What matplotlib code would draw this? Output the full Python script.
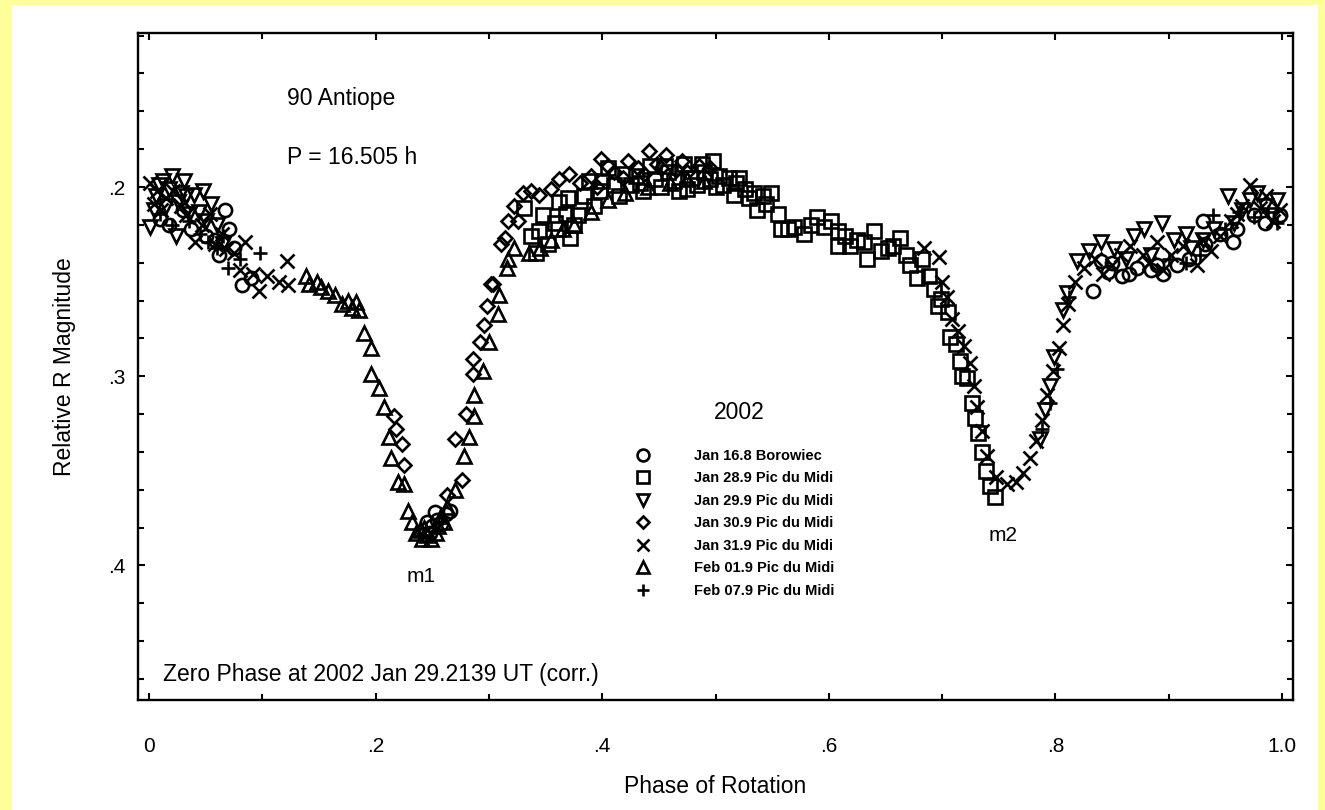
#!/usr/bin/python3

# plot.py
#
# Lightcurve of 90 Antiope, relative R magnitude against rotational phase.
import matplotlib
matplotlib.use('Agg')
import matplotlib.pyplot as plt
from matplotlib.patches import Rectangle

# Jan 16.8 Borowiec (circles)
jan16_phase = [0.010, 0.018, 0.030, 0.037, 0.050, 0.058, 0.062, 0.067, 0.071, 0.075,
               0.082, 0.090,
               0.245, 0.248, 0.250, 0.252, 0.254, 0.258, 0.262, 0.266,
               0.833, 0.840, 0.846, 0.850, 0.859, 0.865, 0.872, 0.884, 0.890, 0.895,
               0.907, 0.918, 0.930, 0.932, 0.945, 0.957, 0.960, 0.975, 0.985, 0.998]
jan16_mag = [0.217, 0.220, 0.212, 0.222, 0.226, 0.228, 0.236, 0.212, 0.222, 0.232,
             0.252, 0.248,
             0.377, 0.383, 0.379, 0.372, 0.376, 0.378, 0.373, 0.371,
             0.255, 0.239, 0.245, 0.240, 0.247, 0.246, 0.243, 0.244, 0.241, 0.246,
             0.241, 0.238, 0.218, 0.230, 0.225, 0.229, 0.222, 0.215, 0.219, 0.215]

# Jan 28.9 Pic du Midi (squares)
jan28_phase = [0.331, 0.337, 0.342, 0.344, 0.348, 0.352, 0.358, 0.361, 0.362, 0.368,
               0.370, 0.372, 0.375, 0.379, 0.384, 0.388, 0.393, 0.398, 0.400, 0.405,
               0.410, 0.415, 0.420, 0.425, 0.430, 0.433, 0.436, 0.442, 0.447, 0.452,
               0.455, 0.458, 0.463, 0.468, 0.472, 0.475, 0.478, 0.484, 0.488, 0.490,
               0.495, 0.498, 0.500, 0.503, 0.507, 0.512, 0.516, 0.518, 0.521, 0.526,
               0.530, 0.534, 0.537, 0.542, 0.545, 0.549, 0.555, 0.558, 0.564, 0.569,
               0.578, 0.584, 0.590, 0.596, 0.602, 0.608, 0.608, 0.614, 0.619, 0.625,
               0.631, 0.634, 0.640, 0.646, 0.652, 0.657, 0.663, 0.668, 0.672, 0.678,
               0.682, 0.688, 0.693, 0.696, 0.699, 0.705, 0.707, 0.712, 0.716, 0.718,
               0.722, 0.726, 0.729, 0.732, 0.735, 0.739, 0.742, 0.747]
jan28_mag = [0.211, 0.226, 0.235, 0.223, 0.215, 0.230, 0.219, 0.222, 0.208, 0.214,
             0.206, 0.227, 0.220, 0.215, 0.205, 0.197, 0.210, 0.202, 0.197, 0.190,
             0.199, 0.205, 0.193, 0.199, 0.194, 0.198, 0.202, 0.189, 0.196, 0.200,
             0.189, 0.192, 0.197, 0.202, 0.188, 0.201, 0.195, 0.199, 0.188, 0.192,
             0.196, 0.186, 0.200, 0.194, 0.199, 0.195, 0.204, 0.198, 0.195, 0.201,
             0.206, 0.203, 0.212, 0.205, 0.209, 0.203, 0.214, 0.222, 0.222, 0.221,
             0.225, 0.220, 0.216, 0.221, 0.218, 0.231, 0.223, 0.226, 0.231, 0.228,
             0.229, 0.238, 0.223, 0.234, 0.232, 0.231, 0.227, 0.236, 0.241, 0.248,
             0.238, 0.247, 0.254, 0.263, 0.259, 0.266, 0.279, 0.283, 0.292, 0.300,
             0.301, 0.314, 0.322, 0.330, 0.340, 0.350, 0.358, 0.364]

# Jan 29.9 Pic du Midi (inverted triangles)
jan29_phase = [0.001, 0.004, 0.006, 0.009, 0.012, 0.015, 0.018, 0.020, 0.024, 0.026,
               0.028, 0.031, 0.033, 0.035, 0.040, 0.044, 0.048, 0.050, 0.055, 0.060,
               0.065,
               0.786, 0.791, 0.795, 0.799, 0.807, 0.810, 0.819, 0.830, 0.840, 0.852,
               0.862, 0.869, 0.878, 0.884, 0.894, 0.905, 0.915, 0.920, 0.930, 0.940,
               0.952, 0.958, 0.965, 0.972, 0.978, 0.985, 0.990, 0.996]
jan29_mag = [0.221, 0.212, 0.205, 0.199, 0.197, 0.210, 0.201, 0.194, 0.226, 0.208,
             0.203, 0.197, 0.205, 0.214, 0.204, 0.213, 0.202, 0.218, 0.209, 0.220,
             0.230,
             0.333, 0.318, 0.305, 0.290, 0.265, 0.256, 0.239, 0.234, 0.229, 0.233,
             0.238, 0.226, 0.222, 0.236, 0.219, 0.228, 0.225, 0.232, 0.228, 0.222,
             0.205, 0.219, 0.212, 0.207, 0.203, 0.210, 0.215, 0.207]

# Jan 30.9 Pic du Midi (diamonds)
jan30_phase = [0.216, 0.218, 0.223, 0.225,
               0.263, 0.270, 0.276, 0.280, 0.286, 0.286, 0.292, 0.296, 0.298, 0.302,
               0.304, 0.311, 0.314, 0.317, 0.322, 0.326, 0.330, 0.337, 0.344, 0.355,
               0.362, 0.371, 0.380, 0.390, 0.395, 0.399, 0.405, 0.410, 0.418, 0.423,
               0.432, 0.437, 0.441, 0.448, 0.452, 0.456, 0.465, 0.470, 0.475, 0.485,
               0.495]
jan30_mag = [0.321, 0.328, 0.336, 0.347,
             0.363, 0.333, 0.355, 0.320, 0.299, 0.291, 0.282, 0.273, 0.263, 0.251,
             0.251, 0.230, 0.227, 0.218, 0.210, 0.218, 0.203, 0.202, 0.204, 0.201,
             0.196, 0.193, 0.198, 0.194, 0.200, 0.185, 0.189, 0.192, 0.195, 0.186,
             0.190, 0.193, 0.181, 0.188, 0.190, 0.183, 0.191, 0.186, 0.192, 0.189,
             0.190]

# Jan 31.9 Pic du Midi (crosses)
jan31_phase = [0.001, 0.004, 0.007, 0.011, 0.015, 0.021, 0.028, 0.033, 0.041, 0.047,
               0.054, 0.058, 0.064, 0.068, 0.075, 0.080, 0.085, 0.092, 0.097, 0.104,
               0.115, 0.122, 0.123,
               0.684, 0.697, 0.700, 0.704, 0.709, 0.714, 0.719, 0.725, 0.728, 0.731,
               0.735, 0.740, 0.748, 0.757, 0.765, 0.771, 0.778, 0.783, 0.788, 0.793,
               0.798, 0.803, 0.807, 0.811, 0.817, 0.825, 0.835, 0.842, 0.850, 0.858,
               0.866, 0.877, 0.883, 0.890, 0.895, 0.902, 0.913, 0.925, 0.930, 0.937,
               0.945, 0.955, 0.960, 0.965, 0.972, 0.981, 0.986, 0.992, 0.998]
jan31_mag = [0.198, 0.209, 0.202, 0.212, 0.206, 0.202, 0.210, 0.215, 0.229, 0.220,
             0.214, 0.230, 0.225, 0.233, 0.235, 0.244, 0.229, 0.246, 0.255, 0.247,
             0.250, 0.239, 0.252,
             0.232, 0.237, 0.250, 0.258, 0.270, 0.276, 0.284, 0.293, 0.305, 0.316,
             0.329, 0.342, 0.353, 0.357, 0.356, 0.351, 0.343, 0.334, 0.323, 0.310,
             0.297, 0.285, 0.273, 0.262, 0.250, 0.243, 0.238, 0.246, 0.241, 0.236,
             0.231, 0.236, 0.240, 0.229, 0.244, 0.236, 0.231, 0.241, 0.228, 0.234,
             0.226, 0.218, 0.214, 0.210, 0.199, 0.211, 0.205, 0.218, 0.212]

# Feb 01.9 Pic du Midi (triangles)
feb01_phase = [0.139, 0.141, 0.148, 0.152, 0.158, 0.164, 0.170, 0.176, 0.179, 0.183,
               0.185, 0.190, 0.196, 0.196, 0.203, 0.207, 0.212, 0.214, 0.220, 0.225,
               0.229, 0.232, 0.236, 0.239, 0.241, 0.243, 0.245, 0.249, 0.253, 0.255,
               0.258, 0.260, 0.263, 0.270, 0.278, 0.282, 0.287, 0.287, 0.295, 0.300,
               0.308, 0.309, 0.316, 0.317, 0.322, 0.335, 0.345, 0.355, 0.365, 0.375,
               0.390, 0.405, 0.420, 0.440, 0.460, 0.475, 0.490]
feb01_mag = [0.247, 0.251, 0.250, 0.253, 0.255, 0.257, 0.262, 0.260, 0.264, 0.261,
             0.265, 0.277, 0.285, 0.299, 0.306, 0.316, 0.332, 0.343, 0.356, 0.357,
             0.371, 0.377, 0.383, 0.381, 0.386, 0.380, 0.384, 0.386, 0.383, 0.379,
             0.374, 0.377, 0.369, 0.360, 0.342, 0.332, 0.321, 0.310, 0.297, 0.282,
             0.267, 0.257, 0.243, 0.238, 0.232, 0.235, 0.232, 0.228, 0.222, 0.220,
             0.213, 0.207, 0.203, 0.200, 0.198, 0.196, 0.197]

# Feb 07.9 Pic du Midi (plus signs)
feb07_phase = [0.010, 0.020, 0.035, 0.045, 0.052, 0.060, 0.065, 0.070, 0.080, 0.098,
               0.788, 0.795, 0.801, 0.812, 0.900, 0.915, 0.928, 0.939, 0.950, 0.962,
               0.975, 0.988, 0.996]
feb07_mag = [0.214, 0.220, 0.218, 0.225, 0.229, 0.232, 0.226, 0.243, 0.238, 0.235,
             0.328, 0.314, 0.296, 0.258, 0.238, 0.240, 0.236, 0.215, 0.222, 0.213,
             0.216, 0.213, 0.219]

series = [
  (jan16_phase, jan16_mag, 'o', 9.5, 'Jan 16.8 Borowiec'),
  (jan28_phase, jan28_mag, 's', 9.5, 'Jan 28.9 Pic du Midi'),
  (jan29_phase, jan29_mag, 'v', 10.0, 'Jan 29.9 Pic du Midi'),
  (jan30_phase, jan30_mag, 'D', 7.2, 'Jan 30.9 Pic du Midi'),
  (jan31_phase, jan31_mag, 'x', 9.5, 'Jan 31.9 Pic du Midi'),
  (feb01_phase, feb01_mag, '^', 10.0, 'Feb 01.9 Pic du Midi'),
  (feb07_phase, feb07_mag, '+', 10.0, 'Feb 07.9 Pic du Midi'),
]

x_ticks = [0, 0.2, 0.4, 0.6, 0.8, 1.0]
x_tick_labels = ['0', '.2', '.4', '.6', '.8', '1.0']
y_ticks = [0.2, 0.3, 0.4]
y_tick_labels = ['.2', '.3', '.4']

plt.rcParams['font.family'] = ['Liberation Sans', 'DejaVu Sans']

W, H = 1325, 810
figure = plt.figure(figsize=(W / 100, H / 100), dpi=100)
figure.patch.set_facecolor('#ffff99')
figure.add_artist(Rectangle((12 / W, 0), 1306 / W, 805 / H, transform=figure.transFigure,
                            facecolor='white', edgecolor='none', zorder=0))

axes = figure.add_axes([138 / W, 110 / H, 1155 / W, 667 / H])
axes.set_facecolor('white')

# Plot each night with its own hollow marker
handles = []
for phase, mag, marker, size, label in series:
  line, = axes.plot(phase, mag, linestyle='none', marker=marker, markersize=size,
                    markerfacecolor='none', markeredgecolor='black',
                    markeredgewidth=1.9, label=label)
  handles.append(line)

# Axes, ticks and limits
axes.set_xlim(-0.0097, 1.0097)
axes.set_ylim(0.4711, 0.1186)
axes.set_xticks(x_ticks)
axes.set_xticklabels(x_tick_labels)
axes.set_xticks([0.1, 0.3, 0.5, 0.7, 0.9], minor=True)
axes.set_yticks(y_ticks)
axes.set_yticklabels(y_tick_labels)
axes.set_yticks([0.12, 0.14, 0.16, 0.18, 0.22, 0.24, 0.26, 0.28, 0.32, 0.34,
                 0.36, 0.38, 0.42, 0.44, 0.46], minor=True)
axes.tick_params(which='both', direction='in', top=True, right=True, width=1.5,
                 labelsize=15)
axes.tick_params(which='major', length=5)
axes.tick_params(which='minor', length=4)
axes.tick_params(axis='x', pad=27)
axes.tick_params(axis='y', pad=9)
for spine in axes.spines.values():
  spine.set_linewidth(1.7)

axes.set_xlabel('Phase of Rotation', fontsize=16.5)
axes.xaxis.set_label_coords(0.5, -0.112)
axes.set_ylabel('Relative R Magnitude', fontsize=16.5)
axes.yaxis.set_label_coords(-0.054, 0.5)

# Annotations
axes.text(0.129, 0.9025, '90 Antiope', transform=axes.transAxes, fontsize=16.5,
          ha='left', va='center')
axes.text(0.129, 0.814, 'P = 16.505 h', transform=axes.transAxes, fontsize=16.5,
          ha='left', va='center')
axes.text(0.022, 0.0375, 'Zero Phase at 2002 Jan 29.2139 UT (corr.)',
          transform=axes.transAxes, fontsize=16.5, ha='left', va='center')
axes.text(0.240, 0.4056, 'm1', fontsize=15, ha='center', va='center')
axes.text(0.754, 0.384, 'm2', fontsize=15, ha='center', va='center')
axes.text(0.5205, 0.4303, '2002', transform=axes.transAxes, fontsize=16.5,
          ha='center', va='center')

# Legend without a frame, text well to the right of the symbols
axes.legend(handles=handles, loc='upper left', bbox_to_anchor=(0.4306, 0.3763),
            frameon=False, handlelength=1.0, handletextpad=3.0,
            labelspacing=0.58, borderpad=0, borderaxespad=0, markerscale=0.9,
            prop={'weight': 'bold', 'size': 10.5})

figure.savefig('out.png', dpi=100, facecolor=figure.get_facecolor())
plt.close()
